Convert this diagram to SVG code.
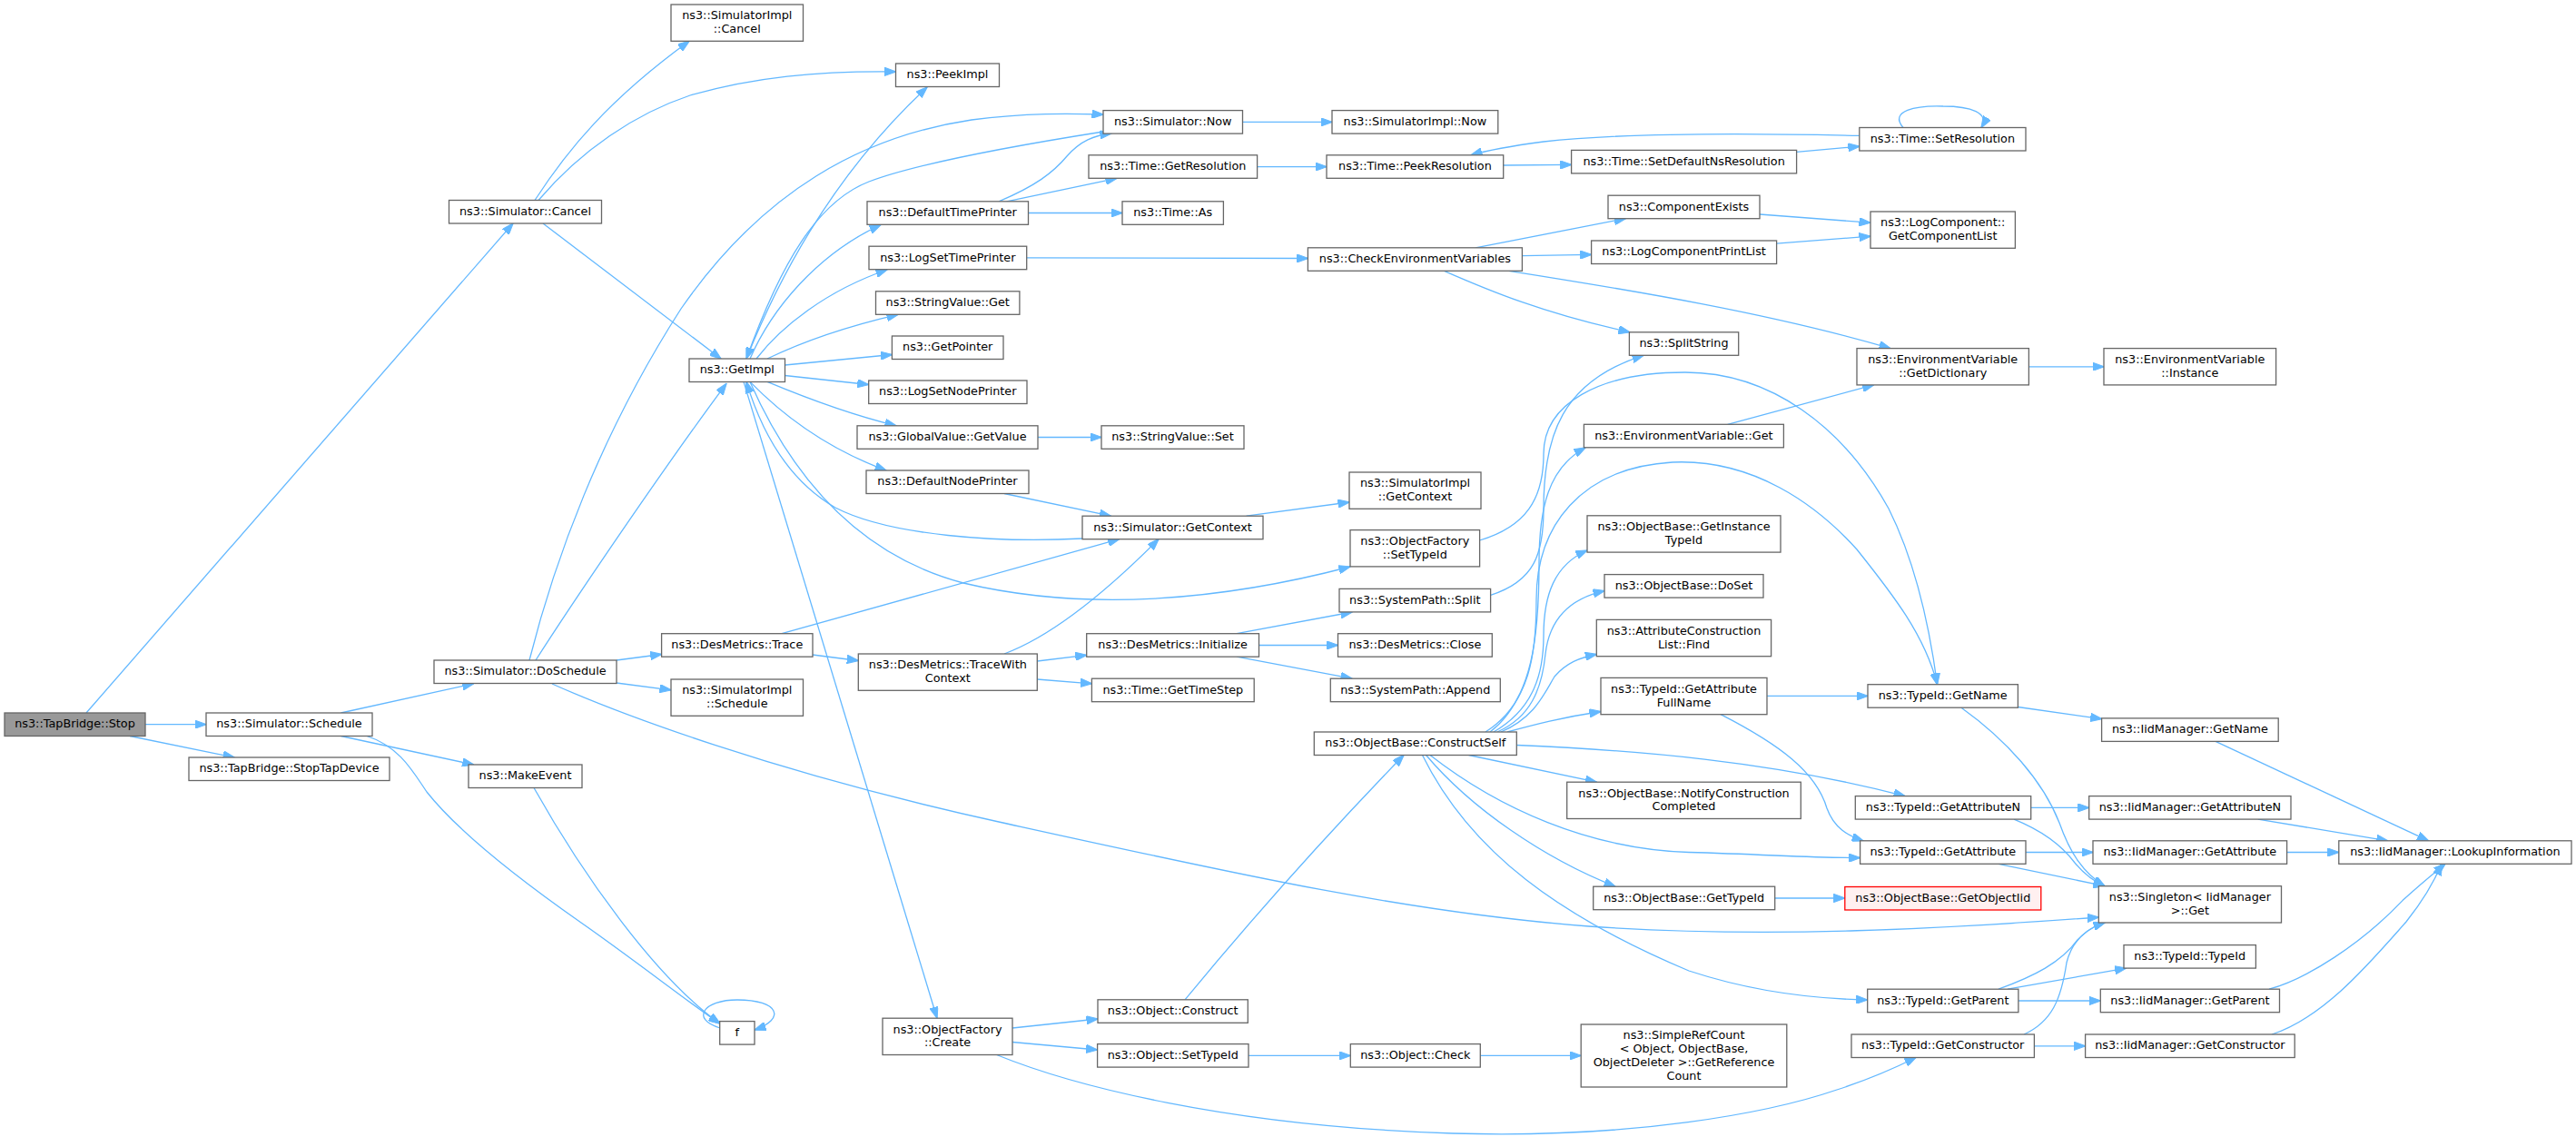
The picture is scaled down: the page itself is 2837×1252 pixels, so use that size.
<svg xmlns="http://www.w3.org/2000/svg" width="2837" height="1252" viewBox="0 0 2837 1252">
<defs>
<style>
.node rect{fill:#ffffff;stroke:#666666;stroke-width:1.3}
.root rect{fill:#999999;stroke:#666666}
.red rect{fill:#fff0f0;stroke:#ff0000}
.node text{font-family:"DejaVu Sans","Liberation Sans",sans-serif;font-size:12.8px;text-anchor:middle;fill:#000000}
#edges path{fill:none;stroke:#63b8ff;stroke-width:1.3;marker-end:url(#a)}
</style>
<marker id="a" viewBox="0 0 13 9.4" refX="12.5" refY="4.7" markerWidth="13" markerHeight="9.4" markerUnits="userSpaceOnUse" orient="auto">
<path d="M0,0 L13,4.7 L0,9.4 z" fill="#63b8ff" stroke="#63b8ff" stroke-width="1"/>
</marker>
</defs>
<rect x="0" y="0" width="2837" height="1252" fill="#ffffff"/>
<g id="edges">
<path d="M95,785 L565,246"/>
<path d="M160,797.7 L227,797.7"/>
<path d="M143,810.5 L258,834"/>
<path d="M589,220.5 C625,165 670,110 759,45.3"/>
<path d="M593,220.5 C640,165 700,125 760,105 C830,85 900,78 986.5,79"/>
<path d="M598,246 L794,395"/>
<path d="M375.5,785 L521.6,752.8"/>
<path d="M375.5,810.5 L521.6,842"/>
<path d="M404,810.5 C440,822 455,850 470,872 C500,910 560,960 640,1016 C700,1058 760,1105 792.7,1127"/>
<path d="M588,867.5 C640,960 720,1075 792.7,1127"/>
<path d="M793,1132 C760,1122 775,1101 812,1101 C858,1101 866,1122 831,1134"/>
<path d="M590,727 C620,680 720,530 800,422.4"/>
<path d="M583,727 C610,620 660,480 750,340 C840,210 950,150 1070,132 C1130,124 1180,125 1215,126"/>
<path d="M679,727 L728.6,720.5"/>
<path d="M679,752 L739,759.8"/>
<path d="M608,753 C680,785 850,850 1100,905 C1350,960 1550,1005 1750,1020 C1950,1034 2150,1022 2311.3,1010"/>
<path d="M822,395 C860,300 920,190 1021,96"/>
<path d="M1215,145 C1120,160 1010,180 957,200 C900,222 860,290 822,395"/>
<path d="M826,395 C850,340 900,280 970,247.5"/>
<path d="M833,395 C860,360 910,320 977,297"/>
<path d="M845,395 C880,378 930,360 989,346.3"/>
<path d="M864.4,402 L982.4,390.5"/>
<path d="M864.4,413.5 L956.7,423.5"/>
<path d="M845,420.4 C880,435 930,455 987,468.8"/>
<path d="M826,420.4 C850,445 900,490 976,518"/>
<path d="M1192,593 C1100,598 980,590 920,559 C870,530 840,480 822,420.4"/>
<path d="M819,420.4 L1032,1121.2"/>
<path d="M826,420.4 C870,520 940,610 1061,642 C1200,675 1350,660 1487,624"/>
<path d="M1368.5,134.4 L1467,134.4"/>
<path d="M1100,221.8 C1140,205 1160,190 1175,172 C1190,155 1205,149 1224,147"/>
<path d="M1108.6,221.8 L1230,196.3"/>
<path d="M1132.5,234.5 L1236,234.5"/>
<path d="M1384.6,183.6 L1461,183.6"/>
<path d="M1655.7,182 L1730.6,181.4"/>
<path d="M1978.5,167.3 L2047.8,161.2"/>
<path d="M2047.8,149.4 C1950,147 1800,145 1700,156 C1670,160 1640,165 1620,170.8"/>
<path d="M2096,140.5 C2080,122 2110,116 2140,117 C2170,117 2192,124 2182,140.5"/>
<path d="M1130.7,283.8 L1440.4,284.5"/>
<path d="M1143,481.5 L1213,481.5"/>
<path d="M1106,543.5 L1223.4,568.2"/>
<path d="M1372.6,568.2 L1486,553"/>
<path d="M861,697.7 L1232.6,593.7"/>
<path d="M895,721 L945.3,727.5"/>
<path d="M1106,720 C1160,700 1220,650 1276,593.7"/>
<path d="M1142.4,728 L1196.7,721.4"/>
<path d="M1142.4,748 L1202.4,752.8"/>
<path d="M1362,697.7 L1489,674"/>
<path d="M1386.5,710.5 L1473.5,710.5"/>
<path d="M1362,723.2 L1489,747.2"/>
<path d="M1625,272.8 L1790.3,240.7"/>
<path d="M1676.4,281.6 L1752.6,280.4"/>
<path d="M1590.5,298.3 C1640,320 1700,345 1795,365.8"/>
<path d="M1661.7,298.3 C1800,320 1950,345 2082,383.6"/>
<path d="M1938,236 L2060,245.2"/>
<path d="M1956.5,268.2 L2060,260.2"/>
<path d="M1902.7,467.3 L2063.5,423.9"/>
<path d="M2234.4,403.8 L2317,403.8"/>
<path d="M1641.6,655.4 C1690,640 1700,610 1700,560 C1700,480 1720,420 1810,391.3"/>
<path d="M1629.6,595 C1680,580 1700,550 1700,500 C1700,445 1760,410 1856,410 C1950,410 2030,470 2080,560 C2110,620 2125,690 2133.5,753.7"/>
<path d="M1636,806 C1685,775 1692,720 1692,660 C1692,580 1740,515 1842,509 C1930,505 2000,555 2045,605 C2085,655 2120,700 2133.5,753.7"/>
<path d="M1641,806 C1688,770 1695,700 1695,620 C1695,560 1705,515 1746,493"/>
<path d="M1645,806 C1690,780 1700,740 1700,700 C1700,655 1712,622 1748,606"/>
<path d="M1649,806 C1685,790 1698,760 1702,720 C1706,685 1725,660 1767,650.6"/>
<path d="M1653,806 C1690,790 1700,765 1712,745 C1725,730 1740,724 1758.3,720.5"/>
<path d="M1660,806 C1690,798 1720,790 1763,783.5"/>
<path d="M1670.2,820.5 C1800,826 1950,838 2098,876.6"/>
<path d="M1617.6,831.5 L1758.4,861.2"/>
<path d="M1575,831.5 C1650,890 1750,935 1860,938.5 C1950,941 2000,945 2048.6,944.5"/>
<path d="M1570.6,831.5 C1620,890 1700,945 1779,976.2"/>
<path d="M1566.5,831.5 C1620,940 1720,1010 1860,1069 C1930,1092 2000,1100 2056.7,1101"/>
<path d="M1946,766.4 L2057,766.4"/>
<path d="M1895,786.7 C1960,820 2000,850 2012,890 C2020,912 2035,920 2052,925.8"/>
<path d="M2222.4,778.5 L2314.6,791.6"/>
<path d="M2160,779.2 C2210,815 2250,860 2268,906 C2280,940 2295,962 2318,975.7"/>
<path d="M2236.7,889.4 L2300.7,889.4"/>
<path d="M2218,902.1 C2250,915 2270,930 2285,950 C2295,962 2305,970 2318,975.7"/>
<path d="M2231,938.5 L2305,938.5"/>
<path d="M2201,951.3 L2318,975.7"/>
<path d="M1954.7,989 L2031.8,989"/>
<path d="M2201,1089.2 C2240,1075 2270,1060 2288,1035 C2298,1025 2305,1020 2318,1016"/>
<path d="M2211,1089.2 L2341.6,1066.1"/>
<path d="M2222.9,1102 L2313.3,1102"/>
<path d="M2229,1139 C2260,1125 2270,1100 2276,1060 C2282,1035 2300,1022 2318,1016"/>
<path d="M2240.4,1151.8 L2296.6,1151.8"/>
<path d="M2440,816.4 L2674.6,925.8"/>
<path d="M2486.8,902.1 L2629.7,925.8"/>
<path d="M2518.6,938.5 L2575.8,938.5"/>
<path d="M2499,1089.2 C2540,1078 2600,1040 2646,991.6 C2665,974 2680,962 2693,951.3"/>
<path d="M2502,1139 C2560,1120 2610,1060 2650,1015 C2670,990 2682,968 2689,951.3"/>
<path d="M1115,1132 L1209,1122"/>
<path d="M1115,1147.5 L1208.6,1156"/>
<path d="M1097.6,1161.5 C1180,1195 1350,1240 1600,1248 C1800,1254 1950,1225 2023,1200 C2060,1188 2085,1177 2110,1164.5"/>
<path d="M1305,1100.8 C1380,1010 1470,910 1546,831.5"/>
<path d="M1375,1162.4 L1487.3,1162.4"/>
<path d="M1630.3,1162.4 L1741.2,1162.4"/>
</g>
<g id="n_stop" class="node root"><rect x="5" y="785" width="155" height="25.5"/><text x="82.5" y="801.4">ns3::TapBridge::Stop</text></g>
<g id="n_cancel" class="node"><rect x="494.5" y="220.5" width="168" height="25.5"/><text x="578.5" y="236.9">ns3::Simulator::Cancel</text></g>
<g id="n_schedule" class="node"><rect x="227" y="785" width="183" height="25.5"/><text x="318.5" y="801.4">ns3::Simulator::Schedule</text></g>
<g id="n_stoptap" class="node"><rect x="208" y="834" width="221" height="25.5"/><text x="318.5" y="850.4">ns3::TapBridge::StopTapDevice</text></g>
<g id="n_implcancel" class="node"><rect x="739" y="5" width="145.5" height="40.3"/><text x="811.8" y="21.4">ns3::SimulatorImpl</text><text x="811.8" y="36.1">::Cancel</text></g>
<g id="n_peekimpl" class="node"><rect x="986.5" y="70" width="114" height="25.5"/><text x="1043.5" y="86.4">ns3::PeekImpl</text></g>
<g id="n_getimpl" class="node"><rect x="759" y="395" width="105.5" height="25.5"/><text x="811.8" y="411.4">ns3::GetImpl</text></g>
<g id="n_doschedule" class="node"><rect x="478" y="727" width="201" height="25.5"/><text x="578.5" y="743.4">ns3::Simulator::DoSchedule</text></g>
<g id="n_makeevent" class="node"><rect x="516" y="842" width="125" height="25.5"/><text x="578.5" y="858.4">ns3::MakeEvent</text></g>
<g id="n_f" class="node"><rect x="792.7" y="1124.6" width="38.3" height="25.5"/><text x="811.8" y="1141">f</text></g>
<g id="n_now" class="node"><rect x="1215" y="121.6" width="153.5" height="25.5"/><text x="1291.8" y="138">ns3::Simulator::Now</text></g>
<g id="n_getres" class="node"><rect x="1199" y="170.8" width="185.6" height="25.5"/><text x="1291.8" y="187.2">ns3::Time::GetResolution</text></g>
<g id="n_deftime" class="node"><rect x="955" y="221.8" width="177.5" height="25.5"/><text x="1043.7" y="238.2">ns3::DefaultTimePrinter</text></g>
<g id="n_as" class="node"><rect x="1236" y="221.8" width="111.4" height="25.5"/><text x="1291.7" y="238.2">ns3::Time::As</text></g>
<g id="n_logsettime" class="node"><rect x="957" y="271.2" width="173.7" height="25.5"/><text x="1043.8" y="287.6">ns3::LogSetTimePrinter</text></g>
<g id="n_svget" class="node"><rect x="964.5" y="320.8" width="158.4" height="25.5"/><text x="1043.7" y="337.2">ns3::StringValue::Get</text></g>
<g id="n_getpointer" class="node"><rect x="982.4" y="370" width="122.6" height="25.5"/><text x="1043.7" y="386.4">ns3::GetPointer</text></g>
<g id="n_logsetnode" class="node"><rect x="956.7" y="419" width="174.3" height="25.5"/><text x="1043.8" y="435.4">ns3::LogSetNodePrinter</text></g>
<g id="n_gvget" class="node"><rect x="944" y="468.8" width="199" height="25.5"/><text x="1043.5" y="485.2">ns3::GlobalValue::GetValue</text></g>
<g id="n_svset" class="node"><rect x="1213" y="468.8" width="157" height="25.5"/><text x="1291.5" y="485.2">ns3::StringValue::Set</text></g>
<g id="n_defnode" class="node"><rect x="954" y="518" width="179" height="25.5"/><text x="1043.5" y="534.4">ns3::DefaultNodePrinter</text></g>
<g id="n_getcontext" class="node"><rect x="1192" y="568.2" width="199" height="25.5"/><text x="1291.5" y="584.6">ns3::Simulator::GetContext</text></g>
<g id="n_trace" class="node"><rect x="728.6" y="697.7" width="166.4" height="25.5"/><text x="811.8" y="714.1">ns3::DesMetrics::Trace</text></g>
<g id="n_implschedule" class="node"><rect x="739" y="748" width="145.5" height="40.3"/><text x="811.8" y="764.4">ns3::SimulatorImpl</text><text x="811.8" y="779.1">::Schedule</text></g>
<g id="n_twc" class="node"><rect x="945.3" y="720" width="197" height="40.3"/><text x="1043.8" y="736.4">ns3::DesMetrics::TraceWith</text><text x="1043.8" y="751.1">Context</text></g>
<g id="n_create" class="node"><rect x="972" y="1121.2" width="143" height="40.3"/><text x="1043.5" y="1137.6">ns3::ObjectFactory</text><text x="1043.5" y="1152.3">::Create</text></g>
<g id="n_initialize" class="node"><rect x="1196.7" y="697.7" width="189.8" height="25.5"/><text x="1291.6" y="714.1">ns3::DesMetrics::Initialize</text></g>
<g id="n_timestep" class="node"><rect x="1202.4" y="747.2" width="178.8" height="25.5"/><text x="1291.8" y="763.6">ns3::Time::GetTimeStep</text></g>
<g id="n_construct" class="node"><rect x="1209" y="1100.8" width="165.3" height="25.5"/><text x="1291.7" y="1117.2">ns3::Object::Construct</text></g>
<g id="n_objsettypeid" class="node"><rect x="1208.6" y="1149.6" width="166.4" height="25.5"/><text x="1291.8" y="1166">ns3::Object::SetTypeId</text></g>
<g id="n_implnow" class="node"><rect x="1467" y="121.6" width="182.8" height="25.5"/><text x="1558.4" y="138">ns3::SimulatorImpl::Now</text></g>
<g id="n_peekres" class="node"><rect x="1461" y="170.8" width="194.7" height="25.5"/><text x="1558.4" y="187.2">ns3::Time::PeekResolution</text></g>
<g id="n_setdefns" class="node"><rect x="1730.6" y="165.4" width="248" height="25.5"/><text x="1854.6" y="181.8">ns3::Time::SetDefaultNsResolution</text></g>
<g id="n_setres" class="node"><rect x="2047.8" y="140.5" width="183.2" height="25.5"/><text x="2139.4" y="156.9">ns3::Time::SetResolution</text></g>
<g id="n_compexists" class="node"><rect x="1771" y="215.2" width="167" height="25.5"/><text x="1854.5" y="231.6">ns3::ComponentExists</text></g>
<g id="n_getcomplist" class="node"><rect x="2060" y="233" width="159.4" height="40.3"/><text x="2139.7" y="249.4">ns3::LogComponent::</text><text x="2139.7" y="264.1">GetComponentList</text></g>
<g id="n_logcompprint" class="node"><rect x="1752.6" y="265" width="204" height="25.5"/><text x="1854.6" y="281.4">ns3::LogComponentPrintList</text></g>
<g id="n_checkenv" class="node"><rect x="1440.4" y="272.8" width="236" height="25.5"/><text x="1558.4" y="289.2">ns3::CheckEnvironmentVariables</text></g>
<g id="n_splitstring" class="node"><rect x="1794.4" y="365.8" width="120.3" height="25.5"/><text x="1854.5" y="382.2">ns3::SplitString</text></g>
<g id="n_getdict" class="node"><rect x="2045" y="383.6" width="189.4" height="40.3"/><text x="2139.7" y="400">ns3::EnvironmentVariable</text><text x="2139.7" y="414.7">::GetDictionary</text></g>
<g id="n_instance" class="node"><rect x="2317" y="383.6" width="189.6" height="40.3"/><text x="2411.8" y="400">ns3::EnvironmentVariable</text><text x="2411.8" y="414.7">::Instance</text></g>
<g id="n_envget" class="node"><rect x="1744.4" y="467.3" width="220" height="25.5"/><text x="1854.4" y="483.7">ns3::EnvironmentVariable::Get</text></g>
<g id="n_implgetcontext" class="node"><rect x="1486" y="520" width="145" height="40.3"/><text x="1558.5" y="536.4">ns3::SimulatorImpl</text><text x="1558.5" y="551.1">::GetContext</text></g>
<g id="n_ofsettypeid" class="node"><rect x="1487" y="583.6" width="142.6" height="40.3"/><text x="1558.3" y="600">ns3::ObjectFactory</text><text x="1558.3" y="614.7">::SetTypeId</text></g>
<g id="n_getinstancetypeid" class="node"><rect x="1748" y="567.8" width="213" height="40.3"/><text x="1854.5" y="584.2">ns3::ObjectBase::GetInstance</text><text x="1854.5" y="598.9">TypeId</text></g>
<g id="n_doset" class="node"><rect x="1767" y="632.6" width="175" height="25.5"/><text x="1854.5" y="649">ns3::ObjectBase::DoSet</text></g>
<g id="n_find" class="node"><rect x="1758.3" y="682.4" width="192.3" height="40.3"/><text x="1854.5" y="698.8">ns3::AttributeConstruction</text><text x="1854.5" y="713.5">List::Find</text></g>
<g id="n_spsplit" class="node"><rect x="1475" y="648.4" width="166.6" height="25.5"/><text x="1558.3" y="664.8">ns3::SystemPath::Split</text></g>
<g id="n_close" class="node"><rect x="1473.5" y="697.7" width="169.8" height="25.5"/><text x="1558.4" y="714.1">ns3::DesMetrics::Close</text></g>
<g id="n_append" class="node"><rect x="1465.3" y="747.2" width="187" height="25.5"/><text x="1558.8" y="763.6">ns3::SystemPath::Append</text></g>
<g id="n_getattrfull" class="node"><rect x="1763" y="746.4" width="183" height="40.3"/><text x="1854.5" y="762.8">ns3::TypeId::GetAttribute</text><text x="1854.5" y="777.5">FullName</text></g>
<g id="n_constructself" class="node"><rect x="1447.3" y="806" width="223" height="25.5"/><text x="1558.8" y="822.4">ns3::ObjectBase::ConstructSelf</text></g>
<g id="n_notify" class="node"><rect x="1725.7" y="861.2" width="257.6" height="40.3"/><text x="1854.5" y="877.6">ns3::ObjectBase::NotifyConstruction</text><text x="1854.5" y="892.3">Completed</text></g>
<g id="n_obgettypeid" class="node"><rect x="1754.7" y="976.2" width="200" height="25.5"/><text x="1854.7" y="992.6">ns3::ObjectBase::GetTypeId</text></g>
<g id="n_check" class="node"><rect x="1487.3" y="1149.6" width="143" height="25.5"/><text x="1558.8" y="1166">ns3::Object::Check</text></g>
<g id="n_simplerefcount" class="node"><rect x="1741.2" y="1128" width="226.6" height="69"/><text x="1854.5" y="1144.4">ns3::SimpleRefCount</text><text x="1854.5" y="1159.1">&lt; Object, ObjectBase,</text><text x="1854.5" y="1173.8">ObjectDeleter &gt;::GetReference</text><text x="1854.5" y="1188.5">Count</text></g>
<g id="n_getname" class="node"><rect x="2057" y="753.7" width="165.4" height="25.5"/><text x="2139.7" y="770.1">ns3::TypeId::GetName</text></g>
<g id="n_iidgetname" class="node"><rect x="2314.6" y="790.9" width="194.6" height="25.5"/><text x="2411.9" y="807.3">ns3::IidManager::GetName</text></g>
<g id="n_getattrn" class="node"><rect x="2043.3" y="876.6" width="193.4" height="25.5"/><text x="2140" y="893">ns3::TypeId::GetAttributeN</text></g>
<g id="n_iidgetattrn" class="node"><rect x="2300.7" y="876.6" width="222.3" height="25.5"/><text x="2411.9" y="893">ns3::IidManager::GetAttributeN</text></g>
<g id="n_getattr" class="node"><rect x="2048.6" y="925.8" width="182.4" height="25.5"/><text x="2139.8" y="942.2">ns3::TypeId::GetAttribute</text></g>
<g id="n_iidgetattr" class="node"><rect x="2305" y="925.8" width="213.6" height="25.5"/><text x="2411.8" y="942.2">ns3::IidManager::GetAttribute</text></g>
<g id="n_lookup" class="node"><rect x="2575.8" y="925.8" width="256.2" height="25.5"/><text x="2703.9" y="942.2">ns3::IidManager::LookupInformation</text></g>
<g id="n_getobjectiid" class="node red"><rect x="2031.8" y="976.5" width="216" height="25.5"/><text x="2139.8" y="992.9">ns3::ObjectBase::GetObjectIid</text></g>
<g id="n_singleton" class="node"><rect x="2311.3" y="975.7" width="201.2" height="40.3"/><text x="2411.9" y="992.1">ns3::Singleton&lt; IidManager</text><text x="2411.9" y="1006.8">&gt;::Get</text></g>
<g id="n_typeid" class="node"><rect x="2339" y="1040.6" width="145.4" height="25.5"/><text x="2411.7" y="1057">ns3::TypeId::TypeId</text></g>
<g id="n_getparent" class="node"><rect x="2056.7" y="1089.2" width="166.2" height="25.5"/><text x="2139.8" y="1105.6">ns3::TypeId::GetParent</text></g>
<g id="n_iidgetparent" class="node"><rect x="2313.3" y="1089.2" width="197.2" height="25.5"/><text x="2411.9" y="1105.6">ns3::IidManager::GetParent</text></g>
<g id="n_getctor" class="node"><rect x="2039" y="1139" width="201.4" height="25.5"/><text x="2139.7" y="1155.4">ns3::TypeId::GetConstructor</text></g>
<g id="n_iidgetctor" class="node"><rect x="2296.6" y="1139" width="230.6" height="25.5"/><text x="2411.9" y="1155.4">ns3::IidManager::GetConstructor</text></g>
</svg>
